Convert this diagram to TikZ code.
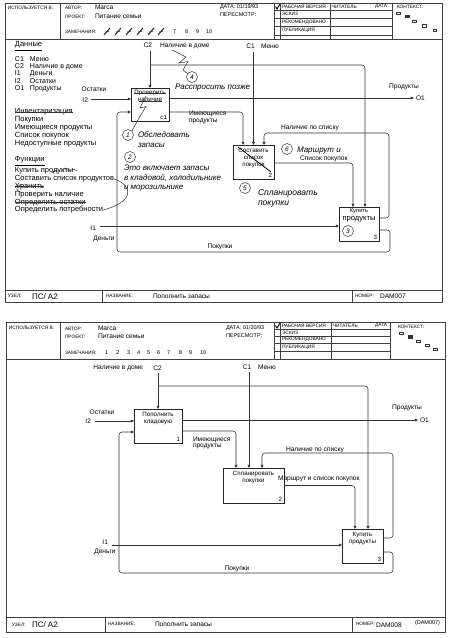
\documentclass[tikz,border=0pt]{standalone}
\usepackage{fontspec}
\setmainfont{Liberation Sans}
\usetikzlibrary{arrows.meta,calc}
\begin{document}
\begin{tikzpicture}[x=1pt,y=-1pt,
  every node/.style={inner sep=0pt,outer sep=0pt},
  frameline/.style={draw=black!75,line width=0.6pt},
  gridline/.style={draw=black!75,line width=0.45pt},
  hdr/.style={anchor=west,font=\fontsize{4.8}{5.2}\selectfont},
  hdate/.style={anchor=west,font=\fontsize{5.5}{6}\selectfont},
  hval/.style={anchor=west,font=\fontsize{6.6}{7}\selectfont},
  hbig/.style={anchor=west,font=\fontsize{8}{8.5}\selectfont},
  plab/.style={anchor=west,font=\fontsize{7.5}{8}\selectfont},
  dlab/.style={anchor=west,font=\fontsize{7}{7.4}\selectfont},
  lab/.style={font=\fontsize{6.6}{7.2}\selectfont,align=left},
  btxt/.style={font=\fontsize{6.2}{7}\selectfont,align=center,anchor=north},
  bnum/.style={font=\fontsize{6.2}{7}\selectfont,anchor=south east},
  fbox/.style={draw=black!85,line width=0.8pt},
  note/.style={font=\fontsize{8}{9.5}\selectfont\itshape,anchor=west,align=left},
  circ/.style={draw=black!80,circle,line width=0.5pt,minimum size=11pt,font=\fontsize{6.5}{7}\selectfont\itshape},
  conn/.style={draw=black!80,line width=0.55pt,rounded corners=3pt},
  arr/.style={conn,-{Triangle[length=3.2pt,width=2.8pt]}},
  hand/.style={draw=black!80,line width=0.5pt},
  sq/.style={draw=black!80,line width=0.4pt},
]
\useasboundingbox (0,0) rectangle (450,638);
\fill[white] (0,0) rectangle (450,638);

% ================= FORM 1 =================
\draw[frameline] (5,3) rectangle (442,302.5);
\draw[gridline] (5,39) -- (442,39);
\draw[gridline] (60,3) -- (60,39);
\foreach \x in {274,280,330,392} \draw[gridline] (\x,3) -- (\x,39);
\foreach \y in {10.5,18,26.5,35} \draw[gridline] (274,\y) -- (392,\y);
\draw[gridline] (5,290) -- (442,290);
\draw[gridline] (102,290) -- (102,302.5);
\draw[gridline] (352,290) -- (352,302.5);

\node[hdr] (u1) at (8,8) {ИСПОЛЬЗУЕТСЯ В:};
\node[hdr] (a1) at (65,8) {АВТОР:};
\node[hval] (a1v) at (95,7) {Marca};
\node[hdr] (p1) at (65,16.5) {ПРОЕКТ:};
\node[hval] (p1v) at (95,16.5) {Питание семьи};
\node[hdr] (z1) at (65,32) {ЗАМЕЧАНИЯ:};
\foreach \x in {107,118,129,140,151,161} {
  \draw[line width=1pt,black!85] (\x-3,35) -- (\x+3,28);
  \draw[line width=0.5pt,black!85] (\x-2,32) -- (\x+2,31.5);
}
\node[hdate] (n17) at (173,32) {7};
\node[hdate] (n18) at (185,32) {8};
\node[hdate] (n19) at (196,32) {9};
\node[hdate] (n110) at (206,32) {10};
\node[hdate] (dt1) at (220,7) {ДАТА: 01/19/93};
\node[hdate] (pr1) at (220,15) {ПЕРЕСМОТР:};
\draw[line width=0.9pt] (275.5,6.5) -- (277,9) -- (280,4);
\node[hdr] (s11) at (282,6.8) {РАБОЧАЯ ВЕРСИЯ};
\node[hdr] (s12) at (282,14.3) {ЭСКИЗ};
\node[hdr] (s13) at (282,22.3) {РЕКОМЕНДОВАНО};
\node[hdr] (s14) at (282,30.8) {ПУБЛИКАЦИЯ};
\node[hdr] (r11) at (332,6.8) {ЧИТАТЕЛЬ};
\node[hdr] (r12) at (375,6.8) {ДАТА};
\node[hdr] (k1) at (397,7) {КОНТЕКСТ:};
\draw[sq] (396.5,12) rectangle (400,14.5);
\filldraw[sq,fill=black!80] (405.5,15) rectangle (409,17.5);
\draw[sq] (412.5,20) rectangle (416,22.5);
\draw[sq] (422.5,24.5) rectangle (426,27);
\draw[sq] (433,29) rectangle (436.5,31.5);

\node[hdr] (f1a) at (8,296) {УЗЕЛ:};
\node[hbig] (f1b) at (32,296.5) {ПС/ А2};
\node[hdr] (f1c) at (106,295.5) {НАЗВАНИЕ:};
\node[hval] (f1d) at (153,296.5) {Пополнить запасы};
\node[hdr] (f1e) at (355,295.5) {НОМЕР:};
\node[hval] (f1f) at (380,296.5) {DAM007};

% left panel
\node[plab] (d0) at (15,46) {\underline{Данные}};
\node[dlab] (d1) at (15,59) {\makebox[15pt][l]{C1}Меню};
\node[dlab] (d2) at (15,66.5) {\makebox[15pt][l]{C2}Наличие в доме};
\node[dlab] (d3) at (15,74) {\makebox[15pt][l]{I1}Деньги};
\node[dlab] (d4) at (15,81.5) {\makebox[15pt][l]{I2}Остатки};
\node[dlab] (d5) at (15,89) {\makebox[15pt][l]{O1}Продукты};
\node[plab] (e0) at (15,112) {Инвентаризация};
\draw[hand] (e0.west) -- (e0.east);
\node[plab] (e1) at (15,120) {Покупки};
\node[plab] (e2) at (15,128) {Имеющиеся продукты};
\node[plab] (e3) at (15,136) {Список покупок};
\node[plab] (e4) at (15,144) {Недоступные продукты};
\node[plab] (g0) at (15,161) {\underline{Функции}};
\node[plab] (g1) at (15,171) {Купить продукты};
\node[plab] (g2) at (15,178.8) {Составить список продуктов};
\node[plab] (g3) at (15,186.6) {Хранить};
\draw[hand] (g3.west) -- (g3.east);
\node[plab] (g4) at (15,194.4) {Проверить наличие};
\node[plab] (g5) at (15,202.2) {Определить остатки};
\draw[hand] (g5.west) -- (g5.east);
\node[plab] (g6) at (15,210) {Определить потребности};
\draw[hand] (52,173) .. controls (56,166) and (61,176) .. (65,168) .. controls (69,174) and (74,166) .. (77,171);
\draw[hand] (g2.east) .. controls (134,186) and (134,202) .. (g6.east);
\draw[hand] (22,184) .. controls (15,187) and (15,191) .. (22,192.5);

% boxes
\node[fbox,minimum width=38pt,minimum height=33pt] (b1) at (150,104.5) {};
\node[fbox,minimum width=41pt,minimum height=34pt] (b2) at (253.5,162) {};
\node[fbox,minimum width=40pt,minimum height=34pt] (b3) at (359,224) {};
\node[btxt] (b1t) at ([yshift=-2.5pt]b1.north) {Проверить\\наличие};
\draw[hand] (134,93.5) -- (166,93.5);
\draw[hand] (139,101) -- (162,101);
\node[bnum] (b1n) at ([xshift=-2pt,yshift=1.5pt]b1.south east) {\textit{c}1};
\node[btxt] (b2t) at ([yshift=-3pt]b2.north) {Составить\\список\\покупок};
\draw[line width=0.8pt] (238,147) -- (271,172);
\node[bnum] (b2n) at ([xshift=-2pt,yshift=1.5pt]b2.south east) {2};
\node[btxt,font=\fontsize{5.8}{6.5}\selectfont] (b3t) at ([yshift=-2pt]b3.north) {Купить\\[1pt]{\fontsize{7.6}{8}\selectfont продукты}};
\node[bnum] (b3n) at ([xshift=-2pt,yshift=1.5pt]b3.south east) {3};
\node[circ] (o3) at (348,231) {3};

% boundary coordinates & labels
\coordinate (c2a) at (150,51);
\coordinate (c1a) at (253.5,52);
\coordinate (i2a) at (91,99);
\coordinate (i1a) at (100,226);
\coordinate (o1a) at (414,98);
\coordinate (j1) at (150,65);
\coordinate (r1) at (389,133);
\coordinate (r2) at (390,252);
\coordinate (l1) at (117,112);
\node[lab,anchor=east] (lc2) at (152,45.5) {C2};
\node[lab,anchor=west] (lc2n) at (160,45.5) {Наличие в доме};
\node[lab] (lc1) at (250.5,46) {C1};
\node[lab,anchor=west] (lc1n) at (261,46) {Меню};
\node[lab] (li2n) at (94,89) {Остатки};
\node[lab,anchor=east] (li2) at (88,100) {I2};
\node[lab,anchor=east] (li1) at (96,228) {I1};
\node[lab] (li1n) at (104,239) {Деньги};
\node[lab] (lo1n) at (404,87) {Продукты};
\node[lab,anchor=west] (lo1) at (416,98.5) {O1};
\node[lab,anchor=west] (lb1o) at (189,117.5) {Имеющиеся\\[-1pt]продукты};
\node[lab,anchor=west] (lb3o) at (281,127.5) {Наличие по списку};
\node[lab] (lpk) at (220,247) {Покупки};

% connectors
\draw[arr] (c2a) -- (c2a |- b1.north);
\draw[arr] (j1) -| ([xshift=6pt]b3.north);
\draw[arr] (c1a) -- (c1a |- b2.north);
\draw[arr] (i2a) -- (i2a -| b1.west);
\draw[arr] (b1.east |- o1a) -- (o1a);
\draw[arr] ([yshift=-7.5pt]b1.east) -| ([xshift=-10.5pt]b2.north);
\draw[arr] ([yshift=-1pt]b2.east) -| ([xshift=-6pt]b3.north);
\draw[arr] ([yshift=6pt]b3.east) -| (r1) -| ([xshift=10.5pt]b2.north);
\draw[arr] (i1a) -- (i1a -| b3.west);
\draw[arr] ([yshift=-6pt]b3.east) -| (r2) -| (l1) -- (l1 -| b1.west);

% annotations
\node[circ] (o4) at (192,77) {4};
\node[note] (n4) at (175,88) {Расспросить позже};
\draw[hand] (172,50) -- (186,57) -- (179,63) -- (188,61.5) -- (183,70) -- (o4);
\draw[hand] (146,96) -- (140,108) -- (146,106.5) -- (139,118);
\node[circ] (o1) at (128,135) {1};
\draw[hand] (139,118) -- (o1.north east);
\node[note] (n1) at (138,139.5) {Обследовать\\запасы};
\node[circ] (o2) at (130,157) {2};
\node[note,font=\fontsize{8}{9.5}\selectfont\itshape] (n2) at (124,178.5) {Это включает запасы\\в кладовой, холодильнике\\и морозильнике};
\node[circ] (o5) at (245,188) {5};
\node[note,font=\fontsize{8.5}{10}\selectfont\itshape] (n5) at (258,198) {Спланировать\\покупки};
\node[circ] (o6) at (287,149) {6};
\node[note] (n6a) at (297,150.5) {Маршрут и};
\node[lab,anchor=west] (n6b) at (300,158.5) {Список покупок};

% ================= FORM 2 =================
\draw[frameline] (6,322.5) rectangle (445,632);
\draw[gridline] (6,359) -- (445,359);
\draw[gridline] (60,322.5) -- (60,359);
\foreach \x in {274,280,331,390} \draw[gridline] (\x,322.5) -- (\x,359);
\foreach \y in {329,336,343.5,351} \draw[gridline] (274,\y) -- (390,\y);
\draw[gridline] (6,617) -- (445,617);
\draw[gridline] (105,617) -- (105,632);
\draw[gridline] (352,617) -- (352,632);

\node[hdr] (u2) at (9,328) {ИСПОЛЬЗУЕТСЯ В:};
\node[hdr] (a2) at (65,329) {АВТОР:};
\node[hval] (a2v) at (98,328) {Marca};
\node[hdr] (p2) at (65,337) {ПРОЕКТ:};
\node[hval] (p2v) at (98,336.5) {Питание семьи};
\node[hdr] (z2) at (65,353) {ЗАМЕЧАНИЯ:};
\foreach \n/\x in {1/105,2/116,3/127,4/137,5/147,6/157,7/167,8/179,9/189,10/200}
  \node[hdate] (m\n) at (\x,353) {\n};
\node[hdate] (dt2) at (226,328.5) {ДАТА: 01/20/93};
\node[hdate] (pr2) at (226,336) {ПЕРЕСМОТР:};
\draw[line width=0.9pt] (275.5,325.5) -- (277,328) -- (280,323);
\node[hdr] (s21) at (282,325.5) {РАБОЧАЯ ВЕРСИЯ};
\node[hdr] (s22) at (282,332.5) {ЭСКИЗ};
\node[hdr] (s23) at (282,339.7) {РЕКОМЕНДОВАНО};
\node[hdr] (s24) at (282,347.2) {ПУБЛИКАЦИЯ};
\node[hdr] (r21) at (333,325.5) {ЧИТАТЕЛЬ};
\node[hdr] (r22) at (375,325.5) {ДАТА};
\node[hdr] (k2) at (398,327) {КОНТЕКСТ:};
\draw[sq] (399.5,332) rectangle (403,334.5);
\filldraw[sq,fill=black!80] (408.5,335.5) rectangle (412,338);
\draw[sq] (416.5,340) rectangle (420,342.5);
\draw[sq] (425.5,344) rectangle (429,346.5);
\draw[sq] (433.5,348) rectangle (437,350.5);

\node[hdr] (f2a) at (12,624.5) {УЗЕЛ:};
\node[hbig] (f2b) at (32,625) {ПС/ А2};
\node[hdr] (f2c) at (108,624) {НАЗВАНИЕ:};
\node[hval] (f2d) at (155,624.5) {Пополнить запасы};
\node[hdr] (f2e) at (356,624) {НОМЕР:};
\node[hval] (f2f) at (376,625.5) {DAM008};
\node[hval,font=\fontsize{5.5}{6}\selectfont] (f2g) at (415,623) {(DAM007)};

\node[fbox,minimum width=48pt,minimum height=34pt] (B1) at (158,426) {};
\node[fbox,minimum width=61pt,minimum height=35pt] (B2) at (253.5,485.5) {};
\node[fbox,minimum width=41pt,minimum height=34pt] (B3) at (362.5,546) {};
\node[btxt] (B1t) at ([yshift=-3.5pt]B1.north) {Пополнить\\кладовую};
\node[bnum] (B1n) at ([xshift=-2pt,yshift=1.5pt]B1.south east) {1};
\node[btxt] (B2t) at ([yshift=-3.5pt]B2.north) {Спланировать\\покупки};
\node[bnum] (B2n) at ([xshift=-2pt,yshift=1.5pt]B2.south east) {2};
\node[btxt] (B3t) at ([yshift=-3.5pt]B3.north) {Купить\\продукты};
\node[bnum] (B3n) at ([xshift=-2pt,yshift=1.5pt]B3.south east) {3};

\coordinate (C2a) at (158,373);
\coordinate (C1a) at (249,372);
\coordinate (I2a) at (95,421);
\coordinate (I1a) at (112,545);
\coordinate (O1a) at (418,420);
\coordinate (J1) at (158,386);
\coordinate (R1) at (393,453);
\coordinate (R2) at (393,573);
\coordinate (L1) at (119,432);
\node[lab,anchor=east] (Lc2n) at (143,368) {Наличие в доме};
\node[lab] (Lc2) at (157.5,368) {C2};
\node[lab] (Lc1) at (247,367.5) {C1};
\node[lab,anchor=west] (Lc1n) at (258,367.5) {Меню};
\node[lab] (Li2n) at (102,412) {Остатки};
\node[lab,anchor=east] (Li2) at (91,421.5) {I2};
\node[lab,anchor=east] (Li1) at (108,542) {I1};
\node[lab] (Li1n) at (105,552) {Деньги};
\node[lab] (Lo1n) at (407,408) {Продукты};
\node[lab,anchor=west] (Lo1) at (420,420.5) {O1};
\node[lab,anchor=west] (Lb1o) at (193,443) {Имеющиеся\\[-1pt]продукты};
\node[lab,anchor=west] (Lb3o) at (286,449.5) {Наличие по списку};
\node[lab,anchor=west] (Lb2o) at (278,478.5) {Маршрут и список покупок};
\node[lab] (Lpk) at (237,569) {Покупки};

\draw[arr] (C2a) -- (C2a |- B1.north);
\draw[arr] (J1) -| ([xshift=5.5pt]B3.north);
\draw[arr] (C1a) -- (C1a |- B2.north);
\draw[arr] (I2a) -- (I2a -| B1.west);
\draw[arr] (B1.east |- O1a) -- (O1a);
\draw[arr] ([yshift=-5pt]B1.east) -| ([xshift=-17.5pt]B2.north);
\draw[arr] (B2.east) -| ([xshift=-7.5pt]B3.north);
\draw[arr] ([yshift=8pt]B3.east) -| (R1) -| ([xshift=8.5pt]B2.north);
\draw[arr] (I1a) -- (I1a -| B3.west);
\draw[arr] ([yshift=-6pt]B3.east) -| (R2) -| (L1) -- (L1 -| B1.west);
\end{tikzpicture}
\end{document}
